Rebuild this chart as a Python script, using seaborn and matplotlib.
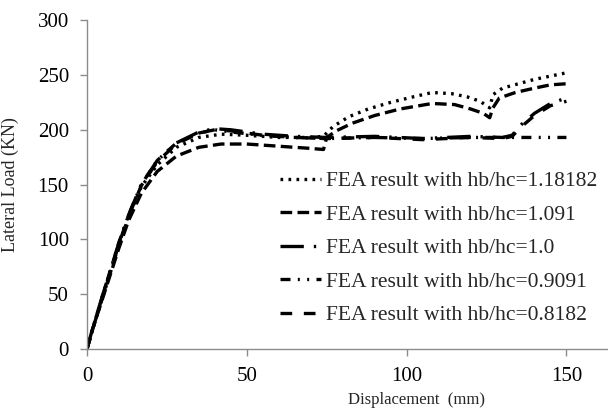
import matplotlib
matplotlib.use("Agg")
import matplotlib.pyplot as plt
import seaborn as sns

# displacement (mm) / lateral load (KN)
x_118 = [0, 2, 5, 8, 10, 13, 17, 22, 28, 35, 42, 50, 60, 70, 74, 77, 82, 88, 95, 102, 108, 114, 119, 123, 126, 127, 130, 135, 140, 145, 150]
y_118 = [0, 20, 48, 76, 95, 120, 148, 168, 184, 193, 196, 195, 193, 193, 194, 203, 212, 219, 225, 230, 234, 233, 230, 226, 220, 232, 238, 242, 246, 249, 252]

x_109 = [0, 2, 5, 8, 10, 13, 17, 22, 28, 35, 42, 50, 60, 70, 74, 75, 78, 83, 90, 98, 108, 115, 120, 124, 126, 127, 129, 134, 140, 145, 150]
y_109 = [0, 20, 47, 74, 92, 117, 142, 162, 176, 184, 187, 187, 185, 183, 182, 193, 199, 206, 213, 219, 224, 223, 219, 215, 211, 220, 229, 234, 238, 241, 242]

x_100 = [0, 2, 5, 8, 10, 13, 17, 22, 28, 35, 40, 45, 55, 65, 75, 90, 105, 120, 130, 133, 136, 140, 145, 150]
y_100 = [0, 21, 50, 78, 97, 122, 150, 172, 188, 198, 201, 200, 196, 194, 193, 194, 192, 194, 193, 195, 205, 215, 224, 229]

x_091 = [0, 2, 5, 8, 10, 13, 17, 22, 28, 35, 40, 45, 55, 65, 75, 90, 105, 120, 135, 150]
y_091 = [0, 21, 50, 78, 97, 122, 150, 172, 188, 197, 200, 198, 195, 193, 192, 193, 192, 193, 193, 193]

x_082 = [0, 2, 5, 8, 10, 13, 17, 22, 28, 35, 40, 45, 55, 65, 75, 90, 105, 120, 130, 133, 136, 140, 145, 150]
y_082 = [0, 20, 49, 77, 96, 121, 149, 171, 187, 197, 200, 199, 195, 193, 192, 193, 191, 193, 192, 194, 203, 213, 222, 226]

labels = ["FEA result with hb/hc=1.18182", "FEA result with hb/hc=1.091",
          "FEA result with hb/hc=1.0", "FEA result with hb/hc=0.9091",
          "FEA result with hb/hc=0.8182"]

sns.set_style("ticks")
plt.rcParams["font.family"] = ["Liberation Serif", "DejaVu Serif"]

fig = plt.figure(figsize=(6.08, 4.12), dpi=100)
ax = fig.add_axes([0.143, 0.153, 0.857, 0.798])

series = [(x_118, y_118, (0, (0.8, 1.6))),
          (x_109, y_109, (0, (3.5, 1.6))),
          (x_100, y_100, (0, (7, 3, 0.7, 3))),
          (x_091, y_091, (0, (3, 2.2, 0.6, 2.2, 0.6, 2.2))),
          (x_082, y_082, (0, (3.5, 3.5)))]

for (xs, ys, ls), lab in zip(series, labels):
    sns.lineplot(x=xs, y=ys, ax=ax, color="black", linewidth=2.4,
                 linestyle=ls, sort=False, label=lab)

ax.set_xlim(0, 163)
ax.set_ylim(0, 300)
ax.set_xticks([0, 50, 100, 150])
ax.set_yticks(range(0, 301, 50))
sns.despine(ax=ax)
for s in ["left", "bottom"]:
    ax.spines[s].set_color("#8c8c8c")
    ax.spines[s].set_linewidth(1.0)
ax.tick_params(colors="#8c8c8c", labelcolor="black", labelsize=15, length=5, width=1.0)
ax.tick_params(axis="x", pad=8)
ax.tick_params(axis="y", pad=8)

ax.set_xlabel("Displacement  (mm)", fontsize=12)
ax.set_ylabel("Lateral Load (KN)", fontsize=13)
ax.xaxis.set_label_coords(0.633, -0.13)
ax.yaxis.set_label_coords(-0.13, 0.5)

ax.legend(loc="upper left", bbox_to_anchor=(0.37, 0.54), frameon=False,
          fontsize=15.5, handlelength=1.9, handletextpad=0.25,
          labelspacing=0.62, borderaxespad=0, borderpad=0)

fig.savefig("out.png", dpi=100)
